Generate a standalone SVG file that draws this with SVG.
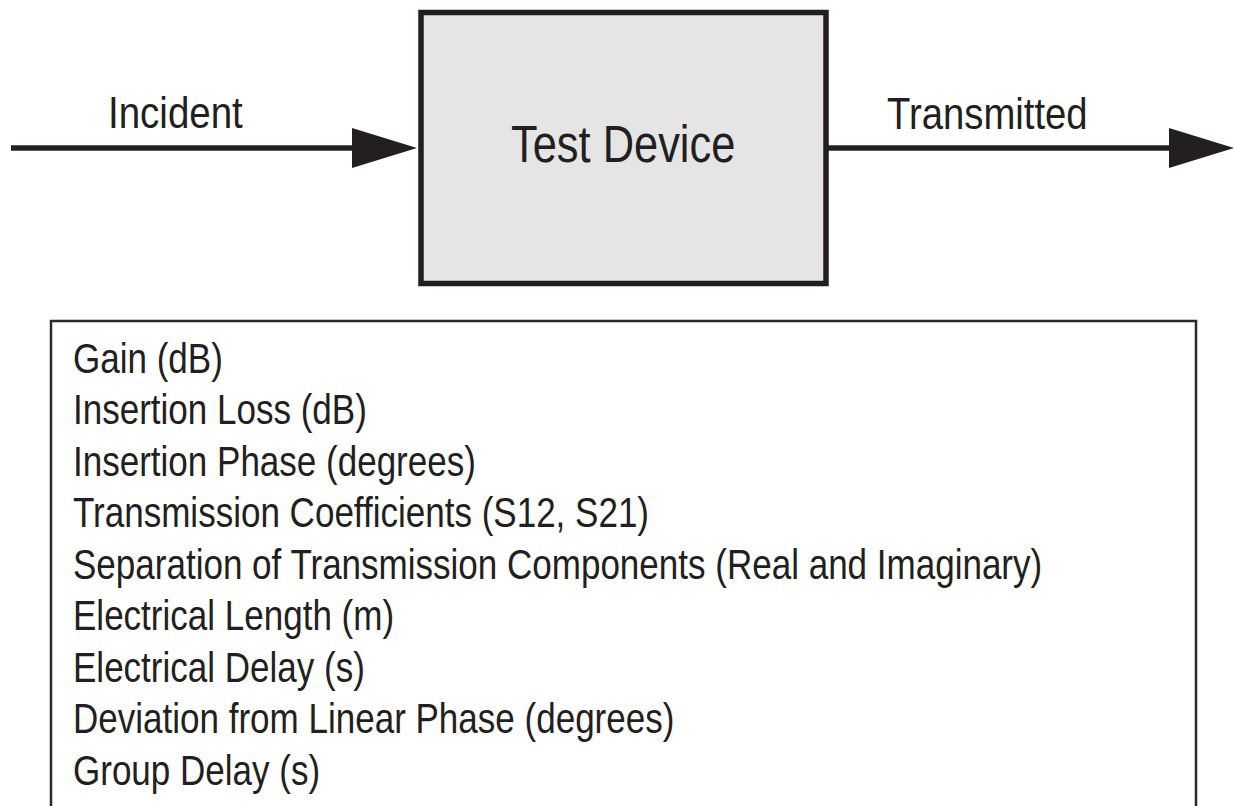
<svg xmlns="http://www.w3.org/2000/svg" width="1236" height="806" viewBox="0 0 1236 806">
  <style>
    .lbl { font-family: "Liberation Sans", Arial, sans-serif; fill: #231f20; }
    .conn { stroke: #231f20; stroke-width: 5.5; fill: none; }
  </style>
  <defs>
    <marker id="arrow" markerUnits="userSpaceOnUse" markerWidth="70" markerHeight="44" refX="8" refY="22" orient="auto">
      <path d="M0,2 L65,22 L0,42 Z" fill="#231f20"/>
    </marker>
  </defs>
  <rect width="1236" height="806" fill="#ffffff"/>

  <g id="connectors">
    <line class="conn" x1="11" y1="148" x2="360" y2="148" marker-end="url(#arrow)"/>
    <line class="conn" x1="826" y1="148" x2="1177" y2="148" marker-end="url(#arrow)"/>
    <text class="lbl" font-size="44" transform="translate(108,128) scale(0.875,1)">Incident</text>
    <text class="lbl" font-size="44" transform="translate(887,129) scale(0.87,1)">Transmitted</text>
  </g>

  <g id="test-device">
    <rect x="421" y="12.5" width="405" height="271" fill="#e5e5e5" stroke="#231f20" stroke-width="5.5"/>
    <text class="lbl" font-size="52" transform="translate(511,162) scale(0.835,1)">Test Device</text>
  </g>

  <g id="measurements">
    <rect x="51" y="321" width="1145" height="520" fill="#ffffff" stroke="#2a2a2a" stroke-width="2.5"/>
    <g class="lbl" font-size="42" transform="translate(73,0) scale(0.834,1)">
      <text x="0" y="373">Gain (dB)</text>
      <text x="0" y="424.5">Insertion Loss (dB)</text>
      <text x="0" y="476">Insertion Phase (degrees)</text>
      <text x="0" y="527.5">Transmission Coefficients (S12, S21)</text>
      <text x="0" y="579">Separation of Transmission Components (Real and Imaginary)</text>
      <text x="0" y="630.5">Electrical Length (m)</text>
      <text x="0" y="682">Electrical Delay (s)</text>
      <text x="0" y="733.5">Deviation from Linear Phase (degrees)</text>
      <text x="0" y="785">Group Delay (s)</text>
    </g>
  </g>
</svg>
